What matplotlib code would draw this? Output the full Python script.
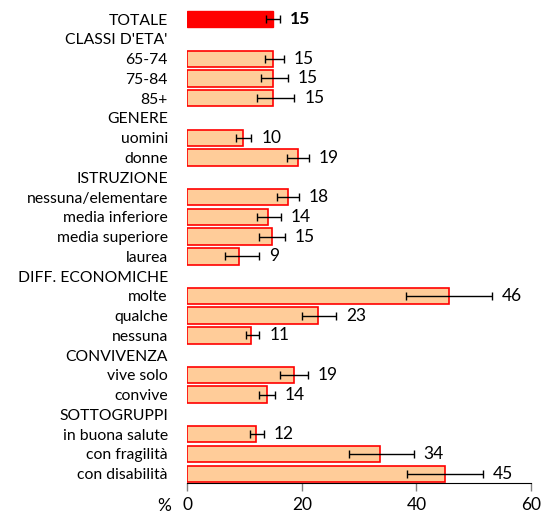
import matplotlib.pyplot as plt
import numpy as np

plt.rcParams['font.family'] = ['Lato', 'DejaVu Sans']

# rows from top to bottom; None = header row without bar
labels = ["TOTALE", "CLASSI D'ETA'", "65-74", "75-84", "85+",
          "GENERE", "uomini", "donne",
          "ISTRUZIONE", "nessuna/elementare", "media inferiore", "media superiore", "laurea",
          "DIFF. ECONOMICHE", "molte", "qualche", "nessuna",
          "CONVIVENZA", "vive solo", "convive",
          "SOTTOGRUPPI", "in buona salute", "con fragilità", "con disabilità"]
values = [15.0, None, 15.0, 15.0, 15.0,
          None, 9.8, 19.3,
          None, 17.5, 14.1, 14.7, 9.1,
          None, 45.7, 22.9, 11.2,
          None, 18.6, 13.9,
          None, 12.0, 33.7, 45.0]
ci_low = [13.8, None, 13.5, 12.9, 12.1,
          None, 8.45, 17.4,
          None, 15.6, 12.1, 12.5, 6.5,
          None, 38.2, 20.1, 10.3,
          None, 16.1, 12.5,
          None, 10.9, 28.3, 38.4]
ci_high = [16.2, None, 16.9, 17.5, 18.7,
           None, 11.2, 21.2,
           None, 19.5, 16.4, 17.1, 12.5,
           None, 53.2, 26.0, 12.6,
           None, 21.1, 15.3,
           None, 13.4, 39.5, 51.7]
shown = ["15", "", "15", "15", "15",
         "", "10", "19",
         "", "18", "14", "15", "9",
         "", "46", "23", "11",
         "", "19", "14",
         "", "12", "34", "45"]

fig = plt.figure(figsize=(5.45, 5.15), dpi=100)
ax = fig.add_axes([0.3437, 0.0621, 0.6306, 0.9187])

y = np.arange(len(labels))
for i, v in enumerate(values):
    if v is None:
        continue
    if i == 0:
        ax.barh(i, v, height=0.83, color='#FF0000', edgecolor='#FF0000', linewidth=1.0)
    else:
        ax.barh(i, v, height=0.83, color='#FFCC99', edgecolor='#FF0000', linewidth=1.2)
    ax.errorbar(v, i, xerr=[[v - ci_low[i]], [ci_high[i] - v]], fmt='none',
                ecolor='black', elinewidth=1.0, capsize=3, capthick=1.0)
    ax.annotate(shown[i], (ci_high[i], i), xytext=(7, 0), textcoords='offset points',
                ha='left', va='center', fontsize=12.5,
                fontweight='bold' if i == 0 else 'normal')

ax.set_xlim(0, 60)
ax.set_ylim(len(labels) - 0.53, -0.47)
ax.set_xticks([0, 20, 40, 60])
ax.set_yticks(y)
ax.set_yticklabels(labels, fontsize=11.3)
ax.tick_params(axis='y', length=0, pad=14)
ax.tick_params(axis='x', direction='out', length=6, width=1, color='#808080',
               labelsize=12.5, pad=4)
for s in ['top', 'right', 'left']:
    ax.spines[s].set_visible(False)
ax.spines['bottom'].set_color('black')

fig.text(171 / 545, 1 - 506 / 515, '%', ha='right', va='center', fontsize=12.5)

fig.savefig('out.png', dpi=100)
